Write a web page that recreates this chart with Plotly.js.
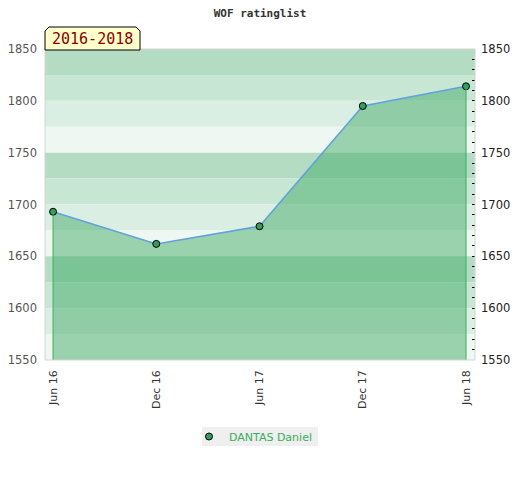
<!DOCTYPE html>
<html>
<head>
<meta charset="utf-8">
<script src="https://cdn.plot.ly/plotly-3.0.1.min.js"></script>
<style>html,body{margin:0;padding:0;background:#fff;}#chart{width:520px;height:480px;}</style>
</head>
<body>
<div id="chart"></div>
<script>
// ---- data ----
const categories = ["Jun 16", "Dec 16", "Jun 17", "Dec 17", "Jun 18"];
const ratings = [1693, 1662, 1679, 1795, 1814];
const playerName = "DANTAS Daniel";
const chartTitle = "WOF ratinglist";
const periodLabel = "2016-2018";
const yMin = 1550, yMax = 1850;

// ---- styles ----
const bandColors = ["#b3dcc2", "#c8e6d4", "#dbeee3", "#eef7f1"]; // from top of each 100-block
const fillColor = "rgba(61,169,100,0.475)";

const shapes = [];
// horizontal background bands every 25
for (let y = yMax; y > yMin; y -= 25) {
  const idx = ((yMax - y) / 25) % 4;
  shapes.push({type: "rect", xref: "paper", yref: "y", x0: 0, x1: 1, y0: y - 25, y1: y,
    fillcolor: bandColors[idx], line: {width: 0}, layer: "below"});
}
// vertical edge lines of the filled area
const nLast = categories.length - 1;
shapes.push({type: "line", xref: "x", yref: "y", x0: 0, x1: 0, y0: yMin, y1: ratings[0],
  line: {color: "#3cae62", width: 1}, layer: "above"});
shapes.push({type: "line", xref: "x", yref: "y", x0: nLast, x1: nLast, y0: yMin, y1: ratings[nLast],
  line: {color: "#3cae62", width: 1}, layer: "above"});
// plot border
shapes.push({type: "rect", xref: "paper", yref: "paper", x0: 0, x1: 1, y0: 0, y1: 1,
  line: {color: "#d4d4d4", width: 1}, fillcolor: "rgba(0,0,0,0)", layer: "above"});
// period label box with cut corners (paper coords)
const bx0 = 0, bx1 = 95 / 430, by0 = (360 - 50) / 311, by1 = (360 - 27) / 311;
const cx = 4 / 430, cy = 4 / 311;
shapes.push({type: "path", xref: "paper", yref: "paper",
  path: `M ${bx0} ${by0} L ${bx0} ${by1 - cy} L ${bx0 + cx} ${by1} L ${bx1 - cx} ${by1} L ${bx1} ${by1 - cy} L ${bx1} ${by0} Z`,
  fillcolor: "#ffffcc", line: {color: "#000", width: 1}, layer: "above"});
// legend background box
shapes.push({type: "rect", xref: "paper", yref: "paper",
  x0: (202 - 45) / 430, x1: (318 - 45) / 430, y0: (360 - 446) / 311, y1: (360 - 427) / 311,
  fillcolor: "#efefef", line: {width: 0}, layer: "below"});

const xIdx = categories.map((c, i) => i);

const traces = [
  {x: xIdx, y: ratings, type: "scatter", mode: "none", fill: "tozeroy", fillcolor: fillColor,
    showlegend: false, hoverinfo: "skip"},
  {x: xIdx, y: ratings, type: "scatter", mode: "lines", line: {color: "#5fa2dc", width: 1.5},
    showlegend: false, hoverinfo: "skip"},
  {x: xIdx, y: ratings, type: "scatter", mode: "markers", name: playerName,
    marker: {color: "#2f9e5c", size: 7, line: {color: "#000", width: 1}}, showlegend: true},
  {x: xIdx, y: ratings, type: "scatter", mode: "none", yaxis: "y2", showlegend: false, hoverinfo: "skip"}
];

const layout = {
  width: 520, height: 480,
  margin: {l: 45, r: 45, t: 49, b: 120},
  paper_bgcolor: "#fff", plot_bgcolor: "#fff",
  title: {text: chartTitle, x: 0.5, xanchor: "center", y: 1 - 13 / 480, yanchor: "middle",
    font: {family: "DejaVu Sans Mono", size: 11, color: "#333", weight: "bold"}},
  xaxis: {
    range: [-0.078, nLast + 0.087], tickmode: "array", tickvals: xIdx, ticktext: categories,
    tickangle: -90, showgrid: false, zeroline: false, showline: false, ticks: "",
    ticklabelstandoff: 7,
    tickfont: {family: "DejaVu Sans", size: 11, color: "#333"}
  },
  yaxis: {
    range: [yMin, yMax], dtick: 50, showgrid: false, zeroline: false, showline: false, ticks: "",
    ticklabelstandoff: 7,
    tickfont: {family: "DejaVu Sans", size: 11.5, color: "#555"}
  },
  yaxis2: {
    range: [yMin, yMax], dtick: 50, overlaying: "y", side: "right", showgrid: false, zeroline: false,
    showline: false, ticks: "inside", ticklen: 3, tickcolor: "#000", tickwidth: 1,
    minor: {dtick: 10, ticks: "inside", ticklen: 3, tickcolor: "#000", showgrid: false},
    ticklabelstandoff: 5,
    tickfont: {family: "DejaVu Sans", size: 11.5, color: "#222"}
  },
  shapes: shapes,
  annotations: [{
    xref: "paper", yref: "paper", x: (bx0 + bx1) / 2, y: (by0 + by1) / 2, xanchor: "center", yanchor: "middle",
    text: periodLabel, showarrow: false,
    font: {family: "DejaVu Sans Mono", size: 15, color: "#8b0000"}
  }],
  legend: {
    orientation: "h", x: (189 - 45) / 430, xanchor: "left", y: (360 - 436.5) / 311, yanchor: "middle",
    bgcolor: "rgba(0,0,0,0)", itemwidth: 30,
    font: {family: "DejaVu Sans", size: 11, color: "#3aac5e"}
  }
};

Plotly.newPlot("chart", traces, layout, {displayModeBar: false, staticPlot: true});
</script>
</body>
</html>
